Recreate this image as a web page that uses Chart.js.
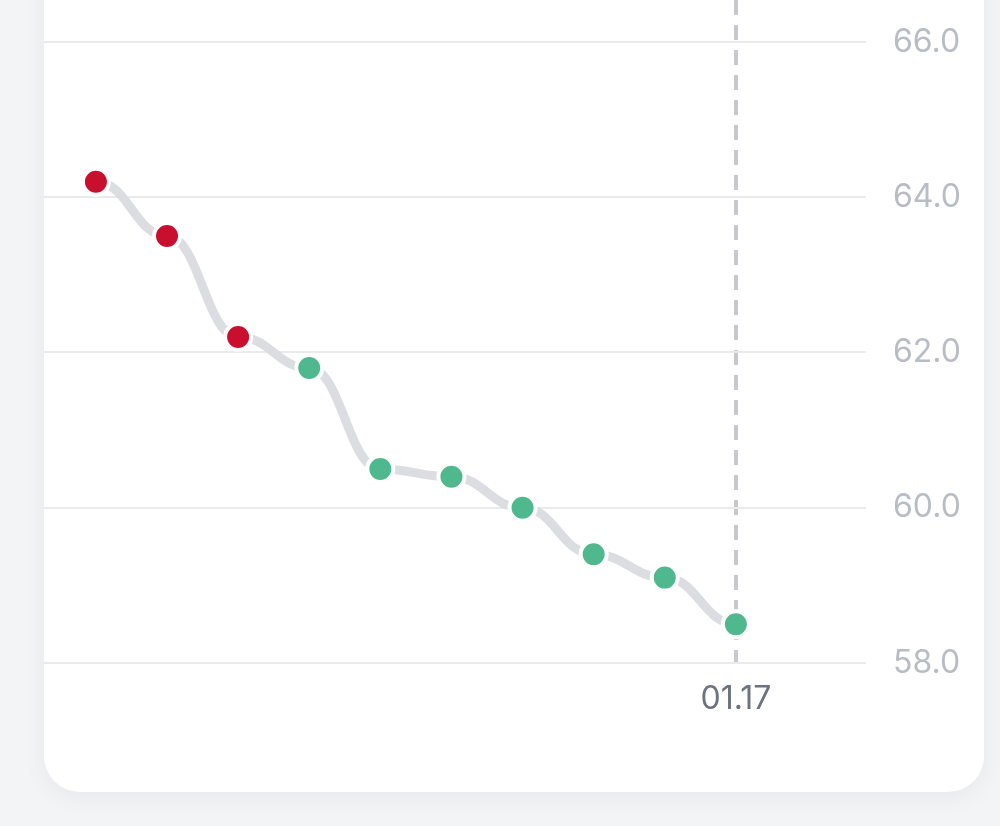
<!DOCTYPE html>
<html>
<head>
<meta charset="utf-8">
<script src="https://cdn.jsdelivr.net/npm/chart.js@4/dist/chart.umd.min.js"></script>
<style>
  html, body { margin: 0; padding: 0; }
  body { width: 1000px; height: 826px; background: #f3f4f6; position: relative; overflow: hidden; font-family: Inter, sans-serif; }
  .card { position: absolute; left: 44px; top: -60px; width: 940px; height: 852px; background: #fff; border-radius: 36px; box-shadow: 0 6px 24px rgba(17, 24, 39, .05); }
  .chart-wrap { position: absolute; left: 44px; top: 0; width: 940px; height: 792px; }
</style>
</head>
<body>
<div class="card"></div>
<div class="chart-wrap"><canvas id="weightChart"></canvas></div>
<script>
// data kurva berat
const dates = ['01.08', '01.09', '01.10', '01.11', '01.12', '01.13', '01.14', '01.15', '01.16', '01.17'];
const weights = [64.2, 63.5, 62.2, 61.8, 60.5, 60.4, 60.0, 59.4, 59.1, 58.5];
const yTicks = [58, 60, 62, 64, 66];
const shownDates = ['01.17'];
const limit = 62; // di atas ini titik merah

const RED = '#c8102e';
const GREEN = '#4fb88f';

// kontrol bezier dibuat datar di setiap titik
const flatCurve = {
  id: 'flatCurve',
  beforeDatasetDraw(chart, args) {
    if (args.index !== 0) return;
    const pts = args.meta.data;
    const k = 0.45;
    pts.forEach((p, i) => {
      const prev = pts[i - 1], next = pts[i + 1];
      p.cp1x = prev ? p.x - (p.x - prev.x) * k : p.x;
      p.cp1y = p.y;
      p.cp2x = next ? p.x + (next.x - p.x) * k : p.x;
      p.cp2y = p.y;
    });
    args.meta.dataset._pointsUpdated = true;
  }
};

const ctx = document.getElementById('weightChart');
new Chart(ctx, {
  type: 'line',
  data: {
    datasets: [{
      data: weights.map((v, i) => ({ x: i, y: v })),
      borderColor: '#dcdde1',
      borderWidth: 9,
      tension: 0.4,
      fill: false,
      clip: false,
      pointRadius: 13,
      pointHoverRadius: 13,
      pointBorderWidth: 4,
      pointBorderColor: '#ffffff',
      pointBackgroundColor: weights.map(v => v > limit ? RED : GREEN)
    }]
  },
  plugins: [flatCurve],
  options: {
    responsive: true,
    maintainAspectRatio: false,
    animation: false,
    events: [],
    layout: { padding: 0, autoPadding: false },
    plugins: { legend: { display: false }, tooltip: { enabled: false } },
    scales: {
      x: {
        type: 'linear',
        min: -0.73,
        max: dates.length - 1 + 1.83,
        afterBuildTicks: s => { s.ticks = shownDates.map(d => ({ value: dates.indexOf(d) })); },
        afterFit: s => { s.height = 129; s.paddingLeft = 0; s.paddingRight = 0; },
        ticks: {
          padding: 17,
          color: '#6b7280',
          font: { family: 'Inter', size: 32 },
          maxRotation: 0,
          callback: v => dates[v]
        },
        grid: { drawTicks: false, color: '#c6c8cd', lineWidth: 4 },
        border: { display: false, dash: [15, 10] }
      },
      y: {
        position: 'right',
        min: 58,
        max: 66.54,
        afterBuildTicks: s => { s.ticks = yTicks.map(v => ({ value: v })); },
        afterFit: s => { s.width = 118; s.paddingTop = 0; s.paddingBottom = 0; },
        ticks: {
          padding: 27,
          color: '#b8bcc4',
          font: { family: 'Inter', size: 32 },
          callback: v => v.toFixed(1)
        },
        grid: { drawTicks: false, color: '#e9eaec', lineWidth: 2 },
        border: { display: false }
      }
    }
  }
});
</script>
</body>
</html>
